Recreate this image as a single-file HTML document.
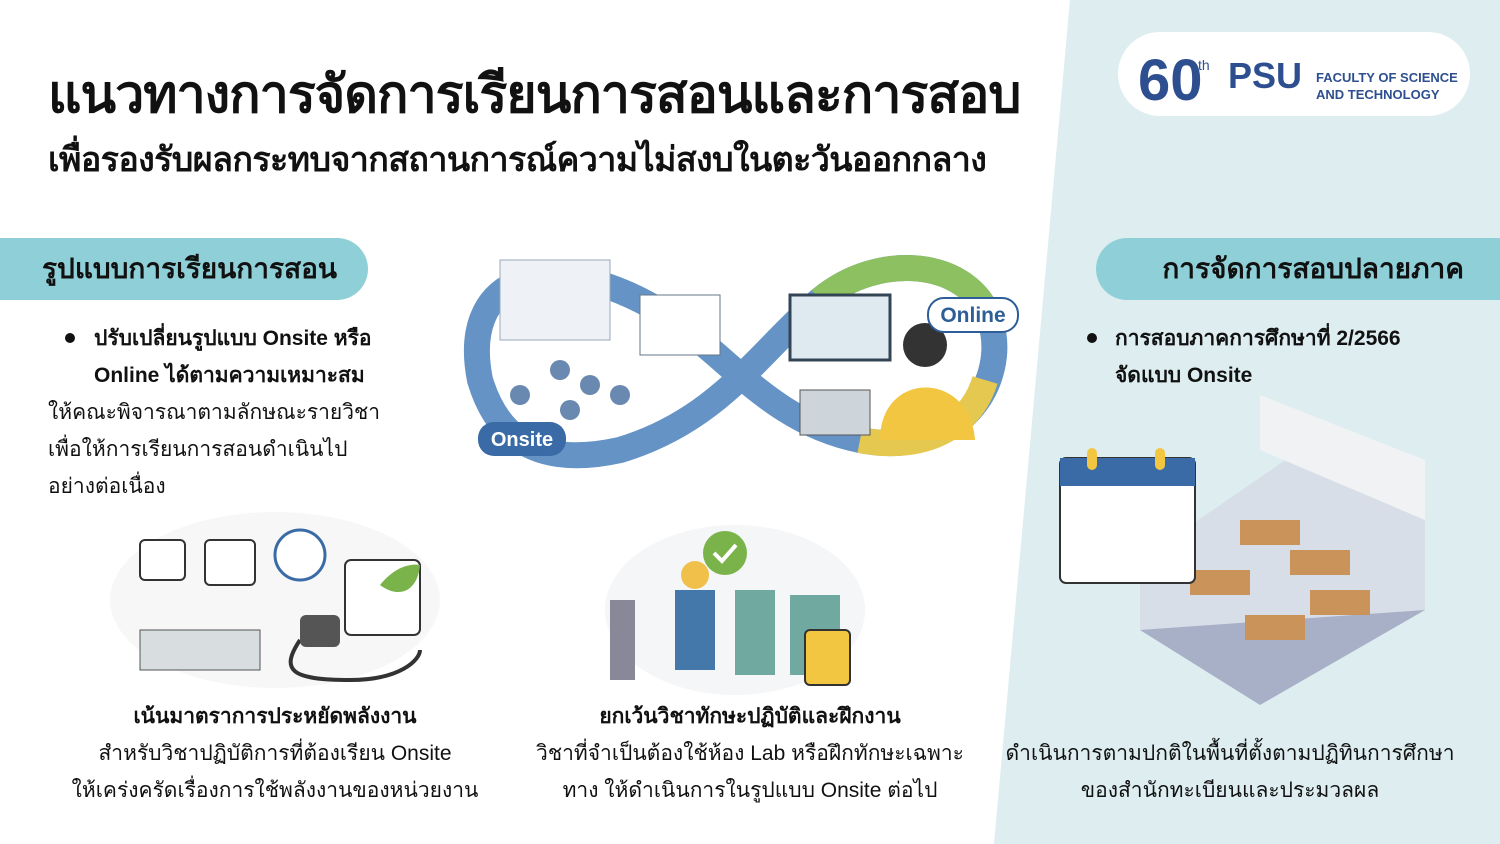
<!DOCTYPE html>
<html><head><meta charset="utf-8"><style>
*{margin:0;padding:0;box-sizing:border-box}
body{width:1500px;height:844px;overflow:hidden;background:#fff;position:relative;font-family:"Liberation Sans","DejaVu Sans",sans-serif;color:#111}
.a{position:absolute}
.t1{left:48px;top:52px;font-size:52px;font-weight:bold;letter-spacing:-1px;white-space:nowrap}
.t2{left:48px;top:132px;font-size:34px;font-weight:bold;white-space:nowrap;letter-spacing:-0.6px}
.pill{background:#8fcfd7;height:62px;top:238px;font-size:28px;font-weight:bold;line-height:62px}
.b{font-size:21px;line-height:37px;white-space:nowrap}
.c{text-align:center;font-size:21px;line-height:37px;white-space:nowrap}
</style></head><body>
<svg class="a" style="left:0;top:0" width="1500" height="844">
<polygon points="1070,0 1500,0 1500,844 994,844" fill="#ddedf0"/>
<path d="M480,380 C460,280 540,250 640,300 C720,340 760,420 860,440 C960,460 1010,380 990,320 C970,260 880,250 820,300 C760,350 720,420 620,450 C530,470 495,430 480,380Z" fill="none" stroke="#3f78b8" stroke-width="26" opacity=".8"/>
<path d="M820,300 C880,250 970,260 990,320" fill="none" stroke="#8cc060" stroke-width="26"/>
<path d="M860,440 C920,452 970,430 985,380" fill="none" stroke="#e5c850" stroke-width="26"/>
<rect x="500" y="260" width="110" height="80" fill="#eef2f6" stroke="#9ab"/>
<rect x="640" y="295" width="80" height="60" fill="#fff" stroke="#678"/>
<rect x="790" y="295" width="100" height="65" fill="#dfeaf0" stroke="#345" stroke-width="3"/>
<circle cx="925" cy="345" r="22" fill="#333"/><path d="M880,440 C880,370 970,370 975,440Z" fill="#f2c640"/>
<rect x="800" y="390" width="70" height="45" fill="#cdd4da" stroke="#555"/>
<rect x="928" y="298" width="90" height="34" rx="16" fill="#fff" stroke="#2e5e99" stroke-width="2"/>
<text x="973" y="322" font-size="21" font-weight="bold" fill="#2e5e99" text-anchor="middle" font-family="Liberation Sans">Online</text>
<rect x="478" y="422" width="88" height="34" rx="16" fill="#3a6ba6"/>
<text x="522" y="446" font-size="20" font-weight="bold" fill="#fff" text-anchor="middle" font-family="Liberation Sans">Onsite</text>
<g fill="#6a89b0"><circle cx="560" cy="370" r="10"/><circle cx="590" cy="385" r="10"/><circle cx="520" cy="395" r="10"/><circle cx="620" cy="395" r="10"/><circle cx="570" cy="410" r="10"/></g>
<ellipse cx="275" cy="600" rx="165" ry="88" fill="#f6f7f6"/>
<rect x="140" y="630" width="120" height="40" fill="#d8dde0" stroke="#555"/>
<rect x="140" y="540" width="45" height="40" rx="5" fill="#fff" stroke="#333" stroke-width="2"/>
<rect x="205" y="540" width="50" height="45" rx="5" fill="#fff" stroke="#333" stroke-width="2"/>
<circle cx="300" cy="555" r="25" fill="#fff" stroke="#3a6ba6" stroke-width="3"/>
<rect x="345" y="560" width="75" height="75" rx="6" fill="#fff" stroke="#333" stroke-width="2"/>
<path d="M380,585 C400,560 420,565 420,565 C418,590 400,600 380,585Z" fill="#7ab34a"/>
<path d="M300,640 C280,670 290,680 350,680 C400,680 420,660 420,650" fill="none" stroke="#333" stroke-width="4"/>
<rect x="300" y="615" width="40" height="32" rx="6" fill="#555"/>
<ellipse cx="735" cy="610" rx="130" ry="85" fill="#f4f6f7"/>
<circle cx="725" cy="553" r="22" fill="#7ab34a"/><path d="M714,553 l8,8 l14,-16" stroke="#fff" stroke-width="4" fill="none"/>
<rect x="675" y="590" width="40" height="80" fill="#4477aa"/><circle cx="695" cy="575" r="14" fill="#f0c04a"/>
<rect x="735" y="590" width="40" height="85" fill="#6fa9a0"/><rect x="790" y="595" width="50" height="80" fill="#6fa9a0"/>
<rect x="805" y="630" width="45" height="55" rx="5" fill="#f2c640" stroke="#333" stroke-width="2"/>
<rect x="610" y="600" width="25" height="80" fill="#889"/>
<polygon points="1140,560 1300,450 1425,520 1425,610 1260,705 1140,630" fill="#d8dee8"/>
<polygon points="1260,450 1425,520 1425,460 1260,395" fill="#f0f2f4"/>
<polygon points="1140,630 1260,705 1425,610" fill="#a8b0c8"/>
<g fill="#c9935a"><rect x="1240" y="520" width="60" height="25"/><rect x="1290" y="550" width="60" height="25"/><rect x="1190" y="570" width="60" height="25"/><rect x="1310" y="590" width="60" height="25"/><rect x="1245" y="615" width="60" height="25"/></g>
<rect x="1060" y="458" width="135" height="125" rx="6" fill="#fff" stroke="#333" stroke-width="2"/>
<rect x="1060" y="458" width="135" height="28" fill="#3a6ba6"/>
<rect x="1087" y="448" width="10" height="22" rx="5" fill="#f2c640"/><rect x="1155" y="448" width="10" height="22" rx="5" fill="#f2c640"/>
<rect x="1118" y="32" width="352" height="84" rx="42" fill="#fff"/>
<text x="1138" y="100" font-size="58" font-weight="bold" fill="#2e4f8f" font-family="Liberation Sans">60</text>
<text x="1198" y="70" font-size="14" fill="#2e4f8f" font-family="Liberation Sans">th</text>
<text x="1228" y="88" font-size="36" font-weight="bold" fill="#2e4f8f" font-family="Liberation Sans">PSU</text>
<text x="1316" y="82" font-size="13" font-weight="bold" fill="#2e4f8f" font-family="Liberation Sans">FACULTY OF SCIENCE</text>
<text x="1316" y="99" font-size="13" font-weight="bold" fill="#2e4f8f" font-family="Liberation Sans">AND TECHNOLOGY</text>
<circle cx="70" cy="338" r="5" fill="#111"/><circle cx="1092" cy="338" r="5" fill="#111"/>
</svg>
<div class="a t1">แนวทางการจัดการเรียนการสอนและการสอบ</div>
<div class="a t2">เพื่อรองรับผลกระทบจากสถานการณ์ความไม่สงบในตะวันออกกลาง</div>
<div class="a pill" style="left:0;width:368px;border-radius:0 31px 31px 0;padding-left:42px">รูปแบบการเรียนการสอน</div>
<div class="a pill" style="left:1096px;width:404px;border-radius:31px 0 0 31px;text-align:right;padding-right:36px">การจัดการสอบปลายภาค</div>
<div class="a b" style="left:94px;top:320px;font-weight:bold">ปรับเปลี่ยนรูปแบบ Onsite หรือ<br>Online ได้ตามความเหมาะสม</div>
<div class="a b" style="left:48px;top:394px">ให้คณะพิจารณาตามลักษณะรายวิชา<br>เพื่อให้การเรียนการสอนดำเนินไป<br>อย่างต่อเนื่อง</div>
<div class="a b" style="left:1115px;top:320px;font-weight:bold">การสอบภาคการศึกษาที่ 2/2566<br>จัดแบบ Onsite</div>
<div class="a c" style="left:40px;width:470px;top:698px"><b>เน้นมาตราการประหยัดพลังงาน</b><br>สำหรับวิชาปฏิบัติการที่ต้องเรียน Onsite<br>ให้เคร่งครัดเรื่องการใช้พลังงานของหน่วยงาน</div>
<div class="a c" style="left:510px;width:480px;top:698px"><b>ยกเว้นวิชาทักษะปฏิบัติและฝึกงาน</b><br>วิชาที่จำเป็นต้องใช้ห้อง Lab หรือฝึกทักษะเฉพาะ<br>ทาง ให้ดำเนินการในรูปแบบ Onsite ต่อไป</div>
<div class="a c" style="left:995px;width:470px;top:735px">ดำเนินการตามปกติในพื้นที่ตั้งตามปฏิทินการศึกษา<br>ของสำนักทะเบียนและประมวลผล</div>
</body></html>
